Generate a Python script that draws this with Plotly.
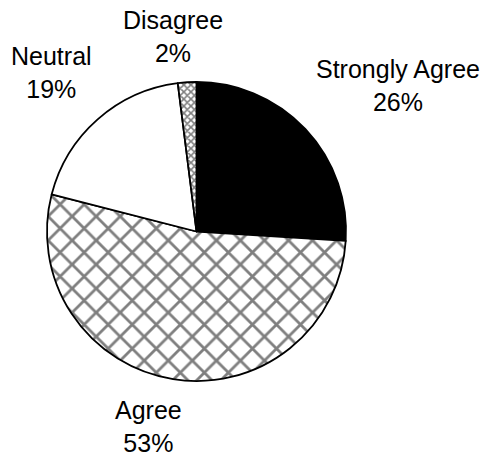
import plotly.graph_objects as go

# Survey responses (percent of respondents)
labels = ["Strongly Agree", "Agree", "Neutral", "Disagree"]
values = [26, 53, 19, 2]

# Slice fills: solid black, coarse cross-hatch, plain white, fine check
fill_colors = ["black", "white", "white", "white"]
pattern_shapes = ["", "x", "", "x"]
pattern_sizes = [8, 17, 8, 5]
pattern_solidity = [0.3, 0.3, 0.3, 0.55]

# Plot area in pixels (the pie fills it)
W, H = 490, 461
M_L, M_R, M_T, M_B = 46, 143, 82, 80
plot_w = W - M_L - M_R
plot_h = H - M_T - M_B

# Centre points of the outside labels, in pixels from the top-left corner
label_px = [(398, 85), (148, 427), (51, 72), (173, 37)]

FONT = "Liberation Sans, Arial, sans-serif"

fig = go.Figure(
    go.Pie(
        labels=labels,
        values=values,
        sort=False,
        direction="clockwise",
        rotation=0,
        marker=dict(
            colors=fill_colors,
            line=dict(color="black", width=1.8),
            pattern=dict(
                shape=pattern_shapes,
                size=pattern_sizes,
                solidity=pattern_solidity,
                fgcolor="black",
                bgcolor="white",
                fillmode="overlay",
            ),
        ),
        textinfo="none",
        showlegend=False,
        hoverinfo="label+percent",
    )
)

for name, val, (px, py) in zip(labels, values, label_px):
    fig.add_annotation(
        text=f"{name}<br>{val}%",
        xref="paper",
        yref="paper",
        x=(px - M_L) / plot_w,
        y=1 - (py - M_T) / plot_h,
        xanchor="center",
        yanchor="middle",
        showarrow=False,
        align="center",
        font=dict(family=FONT, size=25, color="black"),
    )

fig.update_layout(
    width=W,
    height=H,
    margin=dict(l=M_L, r=M_R, t=M_T, b=M_B, autoexpand=False),
    paper_bgcolor="white",
    plot_bgcolor="white",
    font=dict(family=FONT, size=25, color="black"),
)

fig.write_html("out.html")
